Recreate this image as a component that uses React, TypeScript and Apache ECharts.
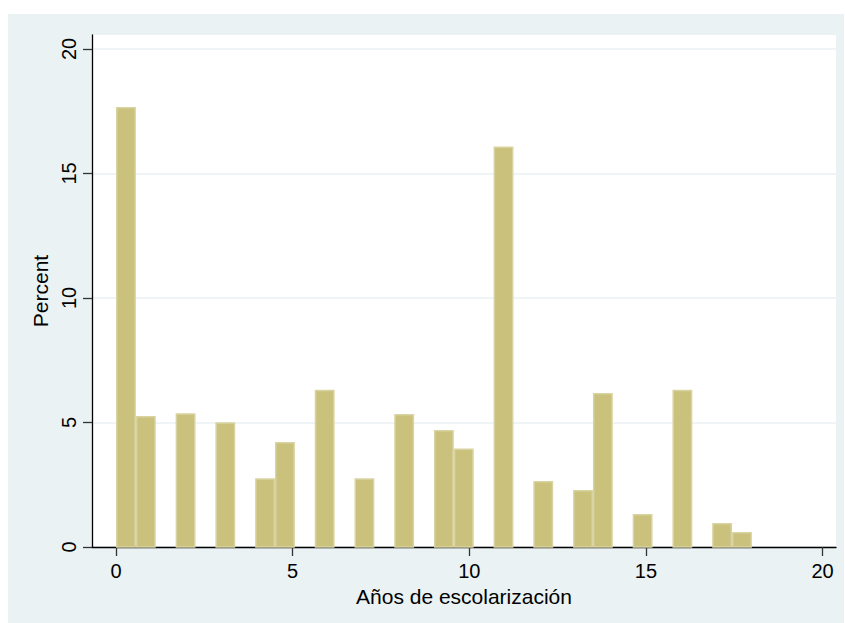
import React, { useEffect, useRef } from 'react';
import * as echarts from 'echarts';

// Years of schooling (each integer value falls in one 0.5625-wide histogram bin)
const years = [0, 1, 2, 3, 4, 5, 6, 7, 8, 9, 10, 11, 12, 13, 14, 15, 16, 17, 18];
const percent = [17.67, 5.26, 5.37, 5.01, 2.76, 4.22, 6.31, 2.76, 5.34, 4.70, 3.96, 16.08, 2.65, 2.29, 6.18, 1.33, 6.31, 0.96, 0.60];
const BIN_WIDTH = 0.5625; // 32 bins over 0..18
const N_BINS = 32;
const xTicks = [0, 5, 10, 15, 20];
const yTicks = [0, 5, 10, 15, 20];

const FONT = '"Liberation Sans", Arial, Helvetica, sans-serif';

export default function App() {
  const ref = useRef<HTMLDivElement>(null);
  useEffect(() => {
    if (!ref.current) return;
    const chart = echarts.init(ref.current, null, { renderer: 'svg' });
    const data = years.map((y, i) => {
      const lo = Math.min(Math.floor(y / BIN_WIDTH), N_BINS - 1) * BIN_WIDTH;
      return [lo, lo + BIN_WIDTH, percent[i]];
    });
    chart.setOption({
      animation: false,
      backgroundColor: '#eaf2f3',
      grid: {
        left: 84,
        top: 21,
        width: 744,
        height: 512,
        show: true,
        backgroundColor: '#ffffff',
        borderWidth: 0,
      },
      xAxis: {
        type: 'value',
        min: -0.68,
        max: 20.38,
        name: 'Años de escolarización',
        nameLocation: 'middle',
        nameGap: 34,
        nameTextStyle: { fontSize: 21, color: '#000', fontFamily: FONT },
        axisLine: { show: true, onZero: false, lineStyle: { color: '#000', width: 1.3 } },
        axisTick: { show: true, length: 9, customValues: xTicks, lineStyle: { color: '#333', width: 1.3 } },
        axisLabel: { customValues: xTicks, margin: 14, fontSize: 20, color: '#000', fontFamily: FONT },
        splitLine: { show: false },
      },
      yAxis: {
        type: 'value',
        min: 0,
        max: 20.56,
        interval: 5,
        name: 'Percent',
        nameLocation: 'middle',
        nameGap: 36,
        nameRotate: 90,
        nameTextStyle: { fontSize: 21, color: '#000', fontFamily: FONT },
        axisLine: { show: true, onZero: false, lineStyle: { color: '#000', width: 1.3 } },
        axisTick: { show: true, length: 9, customValues: yTicks, lineStyle: { color: '#333', width: 1.3 } },
        axisLabel: { customValues: yTicks, rotate: 90, margin: 13, fontSize: 20, color: '#000', fontFamily: FONT },
        splitLine: { show: true, lineStyle: { color: '#eaf2f3', width: 1.5 } },
      },
      series: [
        {
          type: 'custom',
          encode: { x: [0, 1], y: 2 },
          data,
          renderItem: (params: any, api: any) => {
            const x0 = api.value(0);
            const x1 = api.value(1);
            const v = api.value(2);
            const p0 = api.coord([x0, v]);
            const p1 = api.coord([x1, 0]);
            return {
              type: 'rect',
              shape: {
                x: p0[0] + 0.75,
                y: p0[1] + 0.75,
                width: p1[0] - p0[0] - 1.5,
                height: p1[1] - p0[1] - 0.75,
              },
              style: { fill: '#c9c17c', stroke: '#d9d3a2', lineWidth: 1.5 },
            };
          },
        },
      ],
    });
    return () => chart.dispose();
  }, []);
  return (
    <div style={{ position: 'fixed', left: 0, top: 0, width: 845, height: 623, background: '#ffffff' }}>
      <div ref={ref} style={{ position: 'absolute', left: 8, top: 14, width: 836, height: 609 }} />
    </div>
  );
}
